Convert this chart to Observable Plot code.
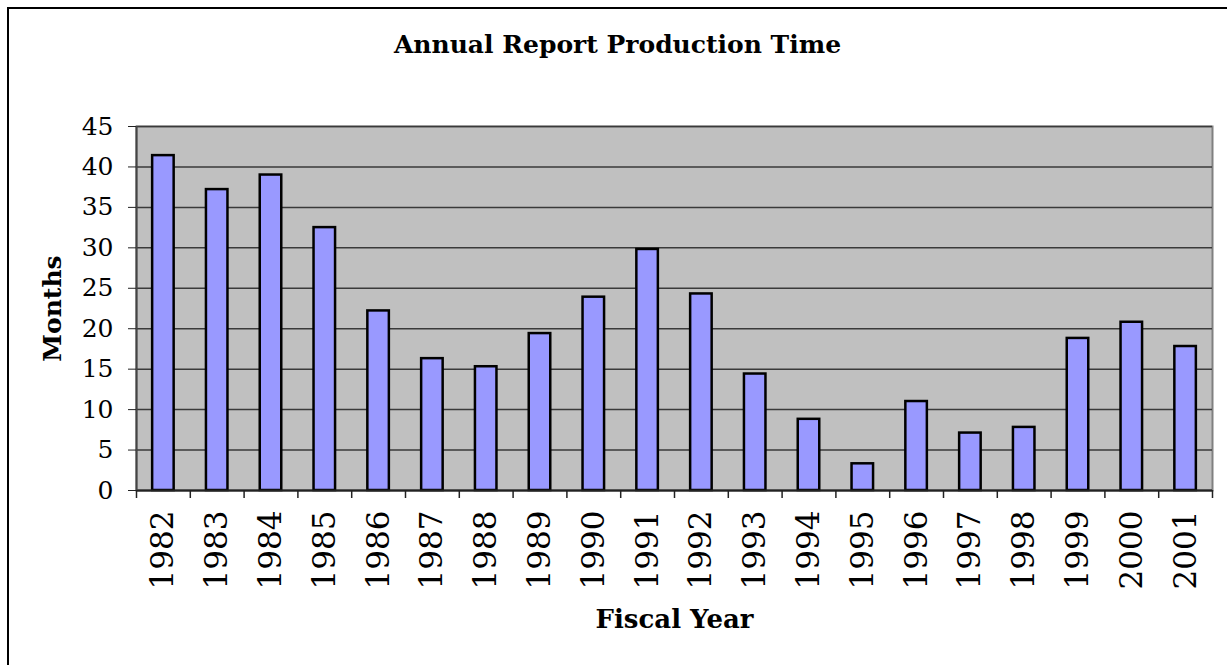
<!DOCTYPE html>
<html>
<head>
<meta charset="utf-8">
<script src="https://cdn.jsdelivr.net/npm/d3@7"></script>
<script src="https://cdn.jsdelivr.net/npm/@observablehq/plot@0.6"></script>
<style>
  html, body { margin: 0; padding: 0; background: #fff; width: 1227px; height: 665px; overflow: hidden; }
  #wrap { position: relative; width: 1227px; height: 665px; font-family: "DejaVu Serif", serif; }
  #border { position: absolute; left: 7px; top: 7px; width: 1240px; height: 700px; border-top: 2px solid #000; border-left: 2px solid #000; box-sizing: border-box; }
  #title { position: absolute; left: 8px; top: 0; width: 1219px; height: 90px; line-height: 90px; text-align: center; font-weight: bold; font-size: 25px; color: #000; }
  #chart { position: absolute; left: 0; top: 90px; }
</style>
</head>
<body>
<div id="wrap">
  <div id="border"></div>
  <div id="title">Annual Report Production Time</div>
  <div id="chart"></div>
</div>
<script>
const years = ["1982","1983","1984","1985","1986","1987","1988","1989","1990","1991",
               "1992","1993","1994","1995","1996","1997","1998","1999","2000","2001"];
const months = [41.4, 37.2, 39.0, 32.5, 22.2, 16.3, 15.3, 19.4, 23.9, 29.8,
                24.3, 14.4, 8.8, 3.3, 11.0, 7.1, 7.8, 18.8, 20.8, 17.8];
const yTicks = [0, 5, 10, 15, 20, 25, 30, 35, 40, 45];
const yLabel = "Months";
const xLabel = "Fiscal Year";

const data = years.map((y, i) => ({year: y, months: months[i]}));

const W = 1227, H = 575, ML = 136, MR = 15, MT = 36, MB = 175;
const step = (W - ML - MR) / years.length;
const plotH = H - MT - MB;

const chart = Plot.plot({
  width: W, height: H,
  marginLeft: ML, marginRight: MR, marginTop: MT, marginBottom: MB,
  style: {fontFamily: "DejaVu Serif", background: "transparent", color: "#000", overflow: "visible"},
  x: {domain: years, paddingInner: 0.6, paddingOuter: 0.3, round: false},
  y: {domain: [0, 45]},
  marks: [
    Plot.frame({fill: "#c0c0c0", stroke: "#808080", strokeWidth: 2}),
    Plot.gridY(yTicks, {stroke: "#3a3a3a", strokeOpacity: 1, strokeWidth: 1.5}),
    Plot.barY(data, {x: "year", y: "months", fill: "#9999ff", stroke: "#000", strokeWidth: 2.5}),
    Plot.ruleY([0], {stroke: "#222", strokeWidth: 2}),
    Plot.ruleX(years, {x: d => d, dx: -step / 2, insetTop: plotH, insetBottom: -8, stroke: "#222", strokeWidth: 1.5}),
    Plot.ruleX([years[years.length - 1]], {x: d => d, dx: step / 2, insetTop: plotH, insetBottom: -8, stroke: "#222", strokeWidth: 1.5}),
    Plot.ruleX([years[0]], {x: d => d, dx: -step / 2, stroke: "#444", strokeWidth: 2}),
    Plot.axisY({ticks: yTicks, tickSize: 8, tickPadding: 15, fontSize: 25, label: null, stroke: "#222"}),
    Plot.axisX({tickSize: 0, tickPadding: 20, tickRotate: -90, fontSize: 31, label: null}),
    Plot.text([yLabel], {frameAnchor: "left", textAnchor: "middle", dx: -84, rotate: -90, fontSize: 25, fontWeight: "bold", fill: "#000"}),
    Plot.text([xLabel], {frameAnchor: "bottom", dy: 137, fontSize: 26, fontWeight: "bold", fill: "#000"})
  ]
});
document.getElementById("chart").appendChild(chart);
</script>
</body>
</html>
